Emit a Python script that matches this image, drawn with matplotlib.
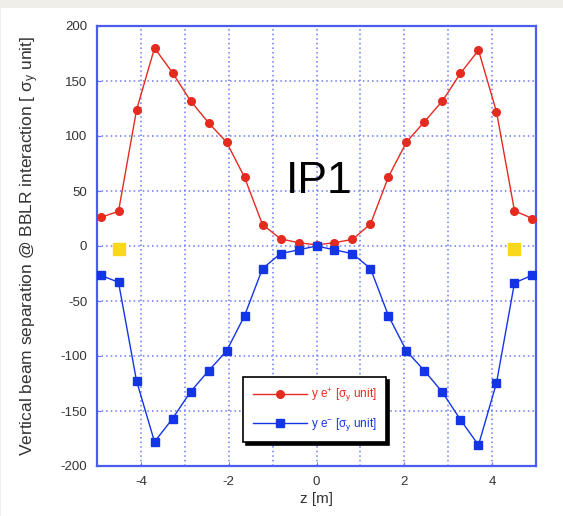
import matplotlib
matplotlib.use('Agg')
import matplotlib.pyplot as plt
from matplotlib.patches import Rectangle

plt.rcParams['font.family'] = ['Liberation Sans', 'DejaVu Sans']
plt.rcParams['axes.unicode_minus'] = False
plt.rcParams['mathtext.fontset'] = 'custom'
plt.rcParams['mathtext.rm'] = 'Liberation Sans'
plt.rcParams['mathtext.it'] = 'Liberation Sans'

# position along z [m]
z = [-4.92, -4.51, -4.10, -3.69, -3.28, -2.87, -2.46, -2.05, -1.64, -1.23, -0.82, -0.41, 0.0,
     0.41, 0.82, 1.23, 1.64, 2.05, 2.46, 2.87, 3.28, 3.69, 4.10, 4.51, 4.92]

# vertical separation [sigma_y]
y_eplus = [26, 31.5, 123.5, 180, 157.5, 132, 112, 94.5, 62.5, 19.5, 6.5, 3, 1,
           3, 6, 20, 63, 94.5, 113, 132, 157, 178, 122, 32, 25]
y_eminus = [-26.5, -33, -122.5, -178, -157, -132.5, -113.5, -95.5, -63.5, -20.5, -7, -3.5, 0,
            -3.5, -7, -20.5, -63.5, -95.5, -113.5, -133, -158, -181, -124.5, -33.5, -26.5]

# yellow markers
z_ip = [-4.5, 4.5]
y_ip = [-3, -3]

xticks = [-4, -2, 0, 2, 4]
yticks = [-200, -150, -100, -50, 0, 50, 100, 150, 200]

red = '#e52a1f'
blue = '#1435e6'
gridblue = '#6b78f5'

fig = plt.figure(figsize=(5.63, 5.16), dpi=100, facecolor='#efeee8')
bg = Rectangle((1 / 563, 0), 562 / 563, 508 / 516, transform=fig.transFigure,
               facecolor='white', edgecolor='none', zorder=-10)
fig.add_artist(bg)

ax = fig.add_axes([97 / 563, 50 / 516, 439 / 563, 440 / 516])
ax.set_zorder(5)
ax.set_xlim(-5, 5)
ax.set_ylim(-200, 200)

# grid every 1 m and every 50
for gx in range(-4, 5):
    ax.axvline(gx, color=gridblue, lw=1.1, ls=(0, (1, 2)), zorder=1)
for gy in range(-150, 151, 50):
    ax.axhline(gy, color=gridblue, lw=1.1, ls=(0, (1, 2)), zorder=1)

ax.plot(z, y_eplus, color=red, lw=1.0, marker='o', ms=5.5, mfc=red, mec=red,
        label=r'y e$^{+}$ [$\sigma_{y}$ unit]', zorder=3)
ax.plot(z, y_eminus, color=blue, lw=1.0, marker='s', ms=5.5, mfc=blue, mec=blue,
        label=r'y e$^{-}$ [$\sigma_{y}$ unit]', zorder=3)
ax.plot(z_ip, y_ip, ls='none', marker='s', ms=9, color='#f9d71c', zorder=3)

ax.text(0.05, 59, 'IP1', fontsize=32, ha='center', va='center', color='black')

ax.set_xticks(xticks)
ax.set_yticks(yticks)
ax.tick_params(direction='in', length=3, color=gridblue, labelsize=9.5, labelcolor='#333333', pad=7)
for s in ax.spines.values():
    s.set_color('#4b5cf0')
    s.set_linewidth(1.6)

ax.set_xlabel('z [m]', fontsize=11, color='#333333', labelpad=3)
ax.set_ylabel(r'Vertical beam separation @ BBLR interaction [ $\sigma_{y}$ unit]',
              fontsize=12.5, color='#333333', labelpad=14)

leg = ax.legend(loc='lower left', bbox_to_anchor=(0.320, 0.040), fontsize=8.5,
                frameon=True, fancybox=False, shadow={'color': 'black', 'alpha': 1},
                handlelength=4.6, borderpad=0.8, labelspacing=1.0, handletextpad=0.3)
leg.get_frame().set_edgecolor('black')
leg.get_frame().set_linewidth(1.2)
for t, c in zip(leg.get_texts(), [red, blue]):
    t.set_color(c)

fig.savefig('out.png', dpi=100, facecolor=fig.get_facecolor())
